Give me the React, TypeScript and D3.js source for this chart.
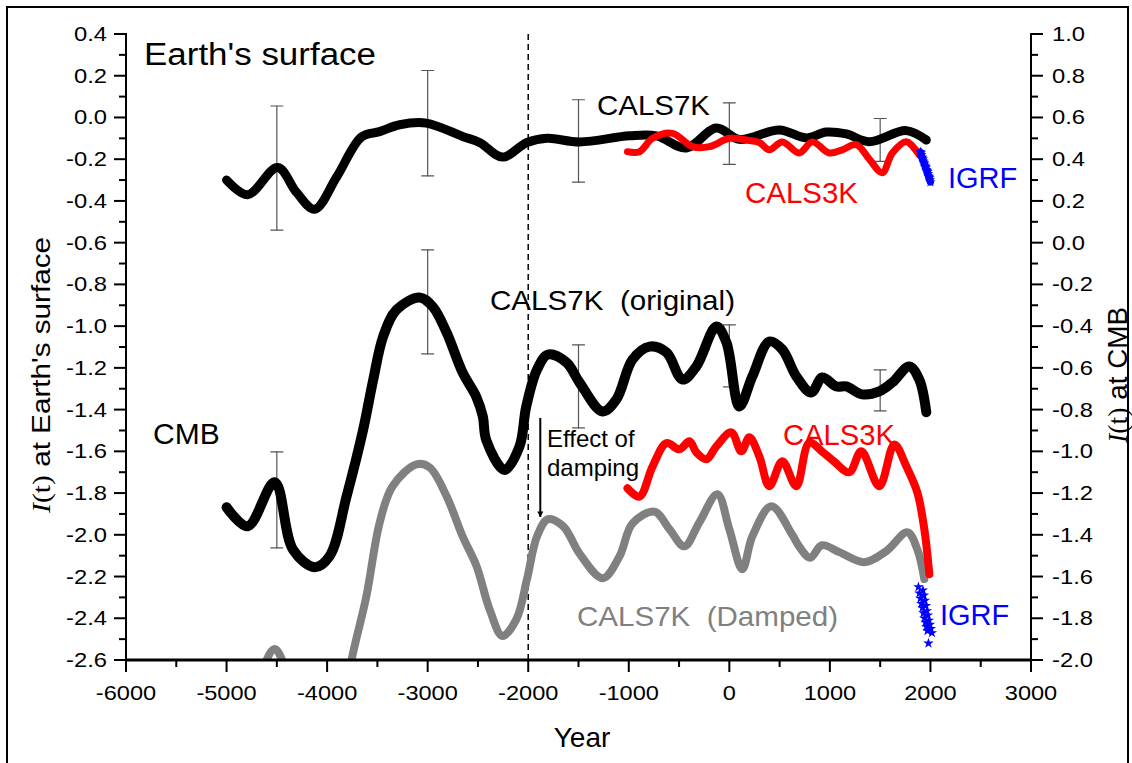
import React from 'react';
import * as d3 from 'd3';

const W = 1132;
const H = 763;

// ---- Data (years, values) ----
// Earth's surface, left axis
const surf7kYears = [-5000, -4790, -4492, -4303, -4124, -3905, -3657, -3478, -3279, -3014, -2653, -2484, -2256, -2012, -1813, -1490, -993, -725, -427, -129, 100, 497, 765, 964, 1163, 1392, 1760, 1959];
const surf7kVals = [-0.30, -0.37, -0.24, -0.36, -0.44, -0.285, -0.093, -0.068, -0.035, -0.027, -0.091, -0.12, -0.19, -0.12, -0.10, -0.117, -0.088, -0.088, -0.146, -0.05, -0.105, -0.06, -0.098, -0.07, -0.079, -0.116, -0.063, -0.108];

const surf3kYears = [-1013, -894, -764, -566, -367, -198, 0, 169, 298, 398, 527, 696, 825, 994, 1124, 1263, 1392, 1521, 1621, 1760, 1889];
const surf3kVals = [-0.164, -0.164, -0.10, -0.076, -0.14, -0.14, -0.10, -0.108, -0.12, -0.155, -0.117, -0.17, -0.117, -0.17, -0.155, -0.13, -0.20, -0.265, -0.17, -0.116, -0.18];

const igrfYears = [1900, 1905, 1910, 1915, 1920, 1925, 1930, 1935, 1940, 1945, 1950, 1955, 1960, 1965, 1970, 1975, 1980, 1985, 1990, 1995, 2000];
const igrfSurfVals = [-0.165, -0.17, -0.18, -0.19, -0.195, -0.2, -0.21, -0.215, -0.22, -0.23, -0.235, -0.24, -0.25, -0.255, -0.26, -0.27, -0.28, -0.285, -0.29, -0.30, -0.31];

// Core-mantle boundary, right axis
const cmb7kYears = [-5000, -4790, -4522, -4340, -4124, -3975, -3806, -3642, -3542, -3443, -3310, -3080, -2951, -2812, -2653, -2517, -2451, -2418, -2236, -2087, -2020, -1912, -1803, -1620, -1490, -1262, -1123, -963, -794, -625, -466, -328, -129, -29, 100, 229, 398, 527, 666, 815, 924, 1064, 1163, 1322, 1491, 1621, 1790, 1889, 1959];
const cmb7kVals = [-1.268, -1.359, -1.148, -1.47, -1.555, -1.502, -1.215, -0.897, -0.658, -0.45, -0.322, -0.263, -0.306, -0.43, -0.622, -0.738, -0.834, -0.945, -1.089, -0.977, -0.786, -0.608, -0.536, -0.574, -0.67, -0.809, -0.751, -0.56, -0.498, -0.526, -0.656, -0.593, -0.402, -0.478, -0.785, -0.641, -0.474, -0.512, -0.641, -0.718, -0.646, -0.689, -0.689, -0.727, -0.713, -0.67, -0.593, -0.656, -0.813];

const dampYears = [-5000, -4800, -4620, -4522, -4430, -4124, -3900, -3757, -3610, -3478, -3349, -3110, -2981, -2812, -2653, -2514, -2385, -2256, -2117, -2012, -1912, -1803, -1650, -1490, -1259, -1093, -963, -745, -596, -447, -298, -119, 0, 129, 229, 418, 626, 700, 805, 920, 1094, 1342, 1561, 1770, 1869, 1939];
const dampVals = [-2.3, -2.35, -2.02, -1.947, -2.02, -2.6, -2.4, -2.0, -1.696, -1.343, -1.167, -1.062, -1.077, -1.215, -1.407, -1.55, -1.756, -1.885, -1.804, -1.612, -1.407, -1.325, -1.36, -1.49, -1.608, -1.504, -1.345, -1.289, -1.373, -1.455, -1.34, -1.206, -1.373, -1.565, -1.407, -1.263, -1.40, -1.46, -1.51, -1.45, -1.483, -1.531, -1.478, -1.388, -1.469, -1.612];

const cmb3kYears = [-1013, -894, -764, -625, -496, -397, -328, -228, -129, 20, 119, 199, 298, 398, 527, 666, 795, 944, 1044, 1193, 1312, 1491, 1641, 1760, 1869, 1939, 1989];
const cmb3kVals = [-1.177, -1.217, -1.073, -0.961, -0.99, -0.952, -1.005, -1.038, -0.976, -0.909, -1.0, -0.933, -1.024, -1.167, -1.048, -1.167, -0.96, -1.01, -1.05, -1.10, -1.0, -1.167, -0.967, -1.072, -1.196, -1.373, -1.589];

const igrfCmbVals = [-1.65, -1.665, -1.68, -1.69, -1.705, -1.715, -1.73, -1.74, -1.75, -1.765, -1.775, -1.785, -1.80, -1.81, -1.82, -1.83, -1.84, -1.85, -1.86, -1.87, -1.92];

// Error bars
const errYears = [-4500, -3000, -1500, 0, 1500];
const errSurfLo = [-0.54, -0.28, -0.31, -0.225, -0.21];
const errSurfHi = [0.055, 0.225, 0.085, 0.07, -0.005];
const errCmbLo = [-1.463, -0.533, -0.888, -0.691, -0.806];
const errCmbHi = [-1.003, -0.035, -0.49, -0.394, -0.61];

// Axis ticks
const xTicks = [-6000, -5000, -4000, -3000, -2000, -1000, 0, 1000, 2000, 3000];
const leftTicks = [0.4, 0.2, 0.0, -0.2, -0.4, -0.6, -0.8, -1.0, -1.2, -1.4, -1.6, -1.8, -2.0, -2.2, -2.4, -2.6];
const rightTicks = [1.0, 0.8, 0.6, 0.4, 0.2, 0.0, -0.2, -0.4, -0.6, -0.8, -1.0, -1.2, -1.4, -1.6, -1.8, -2.0];

const X0 = 126, X1 = 1031, Y0 = 34, Y1 = 660;
const FONT = "'Liberation Sans', Arial, sans-serif";
const SERIF = "'Liberation Serif', 'Times New Roman', serif";

export default function App() {
  const x = d3.scaleLinear().domain([-6000, 3000]).range([X0, X1]);
  const yL = d3.scaleLinear().domain([-2.6, 0.4]).range([Y1, Y0]);
  const yR = d3.scaleLinear().domain([-2.0, 1.0]).range([Y1, Y0]);

  const mk = (ys: number[], vs: number[], yS: d3.ScaleLinear<number, number>) =>
    d3.line<number>().x((_, i) => x(ys[i])).y((v) => yS(v)).curve(d3.curveCatmullRom.alpha(0.5))(vs) || '';

  const star = d3.symbol().type(d3.symbolStar).size(34)() || '';

  const fmt = (v: number) => (Math.abs(v) < 1e-9 ? '0.0' : v.toFixed(1));

  const minorL = d3.range(-2.5, 0.4, 0.2);
  const minorR = d3.range(-1.9, 1.0, 0.2);
  const minorX = d3.range(-5500, 3000, 1000);

  const tickStyle = { fontFamily: FONT, fontSize: 19.5 } as React.CSSProperties;

  return (
    <svg width={W} height={H} style={{ position: 'absolute', left: 0, top: 0, background: '#fff' }}>
      <defs>
        <clipPath id="plotclip">
          <rect x={X0} y={0} width={X1 - X0} height={Y1} />
        </clipPath>
        <marker id="arr" viewBox="0 0 10 10" refX="9" refY="5" markerWidth="6" markerHeight="7" orient="auto" markerUnits="userSpaceOnUse">
          <path d="M0,0 L10,5 L0,10 z" fill="#000" />
        </marker>
      </defs>
      <rect x={0} y={0} width={W} height={H} fill="#fff" />
      <rect x={7} y={7} width={1121} height={800} fill="none" stroke="#000" strokeWidth={2} />

      {/* dashed line at -2000 */}
      <line x1={x(-2000)} x2={x(-2000)} y1={Y0} y2={Y1} stroke="#000" strokeWidth={1.5} strokeDasharray="6,4" />

      <g clipPath="url(#plotclip)" fill="none" strokeLinecap="round" strokeLinejoin="round">
        {/* error bars */}
        {errYears.map((yr, i) => (
          <g key={'es' + i} stroke="#555" strokeWidth={1.2}>
            <line x1={x(yr)} x2={x(yr)} y1={yL(errSurfLo[i])} y2={yL(errSurfHi[i])} />
            <line x1={x(yr) - 6} x2={x(yr) + 6} y1={yL(errSurfLo[i])} y2={yL(errSurfLo[i])} />
            <line x1={x(yr) - 6} x2={x(yr) + 6} y1={yL(errSurfHi[i])} y2={yL(errSurfHi[i])} />
            <line x1={x(yr)} x2={x(yr)} y1={yR(errCmbLo[i])} y2={yR(errCmbHi[i])} />
            <line x1={x(yr) - 6} x2={x(yr) + 6} y1={yR(errCmbLo[i])} y2={yR(errCmbLo[i])} />
            <line x1={x(yr) - 6} x2={x(yr) + 6} y1={yR(errCmbHi[i])} y2={yR(errCmbHi[i])} />
          </g>
        ))}
        <path d={mk(dampYears, dampVals, yR)} stroke="#808080" strokeWidth={8} />
        <path d={mk(cmb7kYears, cmb7kVals, yR)} stroke="#000" strokeWidth={10} />
        <path d={mk(cmb3kYears, cmb3kVals, yR)} stroke="#ff0000" strokeWidth={8} />
        <path d={mk(surf7kYears, surf7kVals, yL)} stroke="#000" strokeWidth={9} />
        <path d={mk(surf3kYears, surf3kVals, yL)} stroke="#ff0000" strokeWidth={7} />
        <path d={mk(igrfYears, igrfSurfVals, yL)} stroke="#0000ff" strokeWidth={7} />
        {igrfYears.map((yr, i) => (
          <path key={'is' + i} d={star} transform={`translate(${x(yr)},${yL(igrfSurfVals[i])})`} fill="#0000ff" stroke="none" />
        ))}
        {igrfYears.map((yr, i) => (
          <path key={'ic' + i} d={star} transform={`translate(${x(yr) + (i % 2 ? 2 : -2)},${yR(igrfCmbVals[i])})`} fill="#0000ff" stroke="none" />
        ))}
      </g>

      {/* arrow */}
      <line x1={x(-1880)} x2={x(-1880)} y1={yR(-0.84)} y2={yR(-1.314)} stroke="#000" strokeWidth={2} markerEnd="url(#arr)" />

      {/* axes */}
      <g stroke="#000">
        <line x1={X0} x2={X0} y1={Y0 - 1} y2={Y1} strokeWidth={2} />
        <line x1={X1} x2={X1} y1={Y0 - 1} y2={Y1} strokeWidth={2} />
        <line x1={X0 - 1} x2={X1 + 1} y1={Y1} y2={Y1} strokeWidth={3} />
        {leftTicks.map((t) => (
          <line key={'lt' + t} x1={X0 - 12} x2={X0} y1={yL(t)} y2={yL(t)} strokeWidth={2} />
        ))}
        {minorL.map((t) => (
          <line key={'lm' + t} x1={X0 - 7} x2={X0} y1={yL(t)} y2={yL(t)} strokeWidth={2} />
        ))}
        {rightTicks.map((t) => (
          <line key={'rt' + t} x1={X1} x2={X1 + 12} y1={yR(t)} y2={yR(t)} strokeWidth={2} />
        ))}
        {minorR.map((t) => (
          <line key={'rm' + t} x1={X1} x2={X1 + 7} y1={yR(t)} y2={yR(t)} strokeWidth={2} />
        ))}
        {xTicks.map((t) => (
          <line key={'xt' + t} x1={x(t)} x2={x(t)} y1={Y1} y2={Y1 + 12} strokeWidth={2} />
        ))}
        {minorX.map((t) => (
          <line key={'xm' + t} x1={x(t)} x2={x(t)} y1={Y1} y2={Y1 + 7} strokeWidth={2} />
        ))}
      </g>

      {leftTicks.map((t) => (
        <text key={'ll' + t} transform={`translate(107,${yL(t) + 7}) scale(1.22,1)`} textAnchor="end" style={tickStyle}>{fmt(t)}</text>
      ))}
      {rightTicks.map((t) => (
        <text key={'rl' + t} transform={`translate(1052,${yR(t) + 7}) scale(1.22,1)`} textAnchor="start" style={tickStyle}>{fmt(t)}</text>
      ))}
      {xTicks.map((t) => (
        <text key={'xl' + t} transform={`translate(${x(t)},700) scale(1.15,1)`} textAnchor="middle" style={{ fontFamily: FONT, fontSize: 20.5 }}>{t}</text>
      ))}

      {/* axis titles */}
      <text x={582} y={747} textAnchor="middle" style={{ fontFamily: FONT, fontSize: 28 }}>Year</text>
      <text transform="translate(50,375) rotate(-90)" textAnchor="middle" textLength={276} lengthAdjust="spacingAndGlyphs" style={{ fontFamily: FONT, fontSize: 26 }}>
        <tspan style={{ fontFamily: SERIF, fontStyle: 'italic' }}>I</tspan>
        <tspan style={{ fontFamily: SERIF }}>(t)</tspan>
        <tspan> at Earth's surface</tspan>
      </text>
      <text transform="translate(1127,375) rotate(-90)" textAnchor="middle" textLength={136} lengthAdjust="spacingAndGlyphs" style={{ fontFamily: FONT, fontSize: 27 }}>
        <tspan style={{ fontFamily: SERIF, fontStyle: 'italic' }}>I</tspan>
        <tspan style={{ fontFamily: SERIF }}>(t)</tspan>
        <tspan> at CMB</tspan>
      </text>

      {/* annotations */}
      <g style={{ fontFamily: FONT }}>
        <text x={144} y={65} textLength={232} lengthAdjust="spacingAndGlyphs" style={{ fontSize: 31 }}>Earth's surface</text>
        <text x={597} y={115} textLength={113} lengthAdjust="spacingAndGlyphs" style={{ fontSize: 28 }}>CALS7K</text>
        <text x={745} y={203} textLength={113} lengthAdjust="spacingAndGlyphs" fill="#ff0000" style={{ fontSize: 29 }}>CALS3K</text>
        <text x={948} y={188} fill="#0000ff" style={{ fontSize: 29 }}>IGRF</text>
        <text x={490} y={310} textLength={245} lengthAdjust="spacingAndGlyphs" style={{ fontSize: 28, whiteSpace: 'pre' }}>{'CALS7K  (original)'}</text>
        <text x={153} y={444} style={{ fontSize: 30 }}>CMB</text>
        <text x={547} y={447} style={{ fontSize: 24 }}>Effect of</text>
        <text x={547} y={476} style={{ fontSize: 24 }}>damping</text>
        <text x={783} y={445} textLength={112} lengthAdjust="spacingAndGlyphs" fill="#ff0000" style={{ fontSize: 29 }}>CALS3K</text>
        <text x={577} y={626} textLength={261} lengthAdjust="spacingAndGlyphs" fill="#808080" style={{ fontSize: 28, whiteSpace: 'pre' }}>{'CALS7K  (Damped)'}</text>
        <text x={940} y={625} fill="#0000ff" style={{ fontSize: 29 }}>IGRF</text>
      </g>
    </svg>
  );
}
